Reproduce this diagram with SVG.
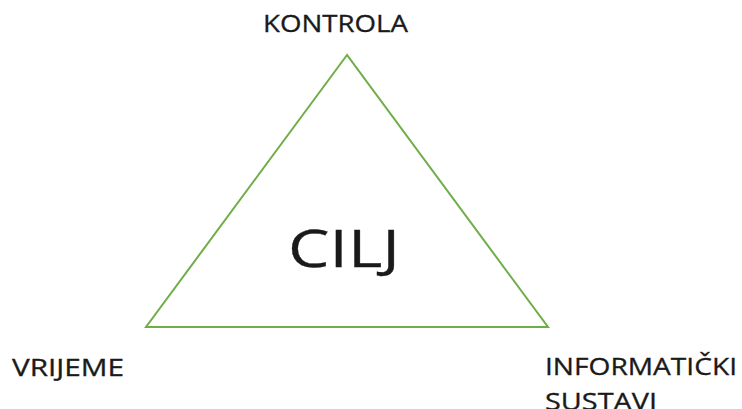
<svg xmlns="http://www.w3.org/2000/svg" width="742" height="409" viewBox="0 0 742 409">
<style>
.lbl{font-family:"Open Sans","Liberation Sans",sans-serif;font-size:23px;fill:#1a1a1a;stroke:#1a1a1a;stroke-width:0.3}
.tri{fill:none;stroke:#70AD47;stroke-width:2}
</style>
<rect width="742" height="409" fill="#ffffff"/>
<g id="triangle"><polygon class="tri" points="347,55 146,327 548,327"/></g>
<g id="cilj"><text class="lbl" x="288" y="267" style="font-size:51px" textLength="112" lengthAdjust="spacingAndGlyphs">CILJ</text></g>
<g id="kontrola"><text class="lbl" x="263" y="32" textLength="145" lengthAdjust="spacingAndGlyphs">KONTROLA</text></g>
<g id="vrijeme"><text class="lbl" x="12" y="376" textLength="112" lengthAdjust="spacingAndGlyphs">VRIJEME</text></g>
<g id="informaticki"><text class="lbl" x="545" y="375" textLength="192" lengthAdjust="spacingAndGlyphs">INFORMATIČKI</text><text class="lbl" x="545" y="410" textLength="112" lengthAdjust="spacingAndGlyphs">SUSTAVI</text></g>
</svg>
